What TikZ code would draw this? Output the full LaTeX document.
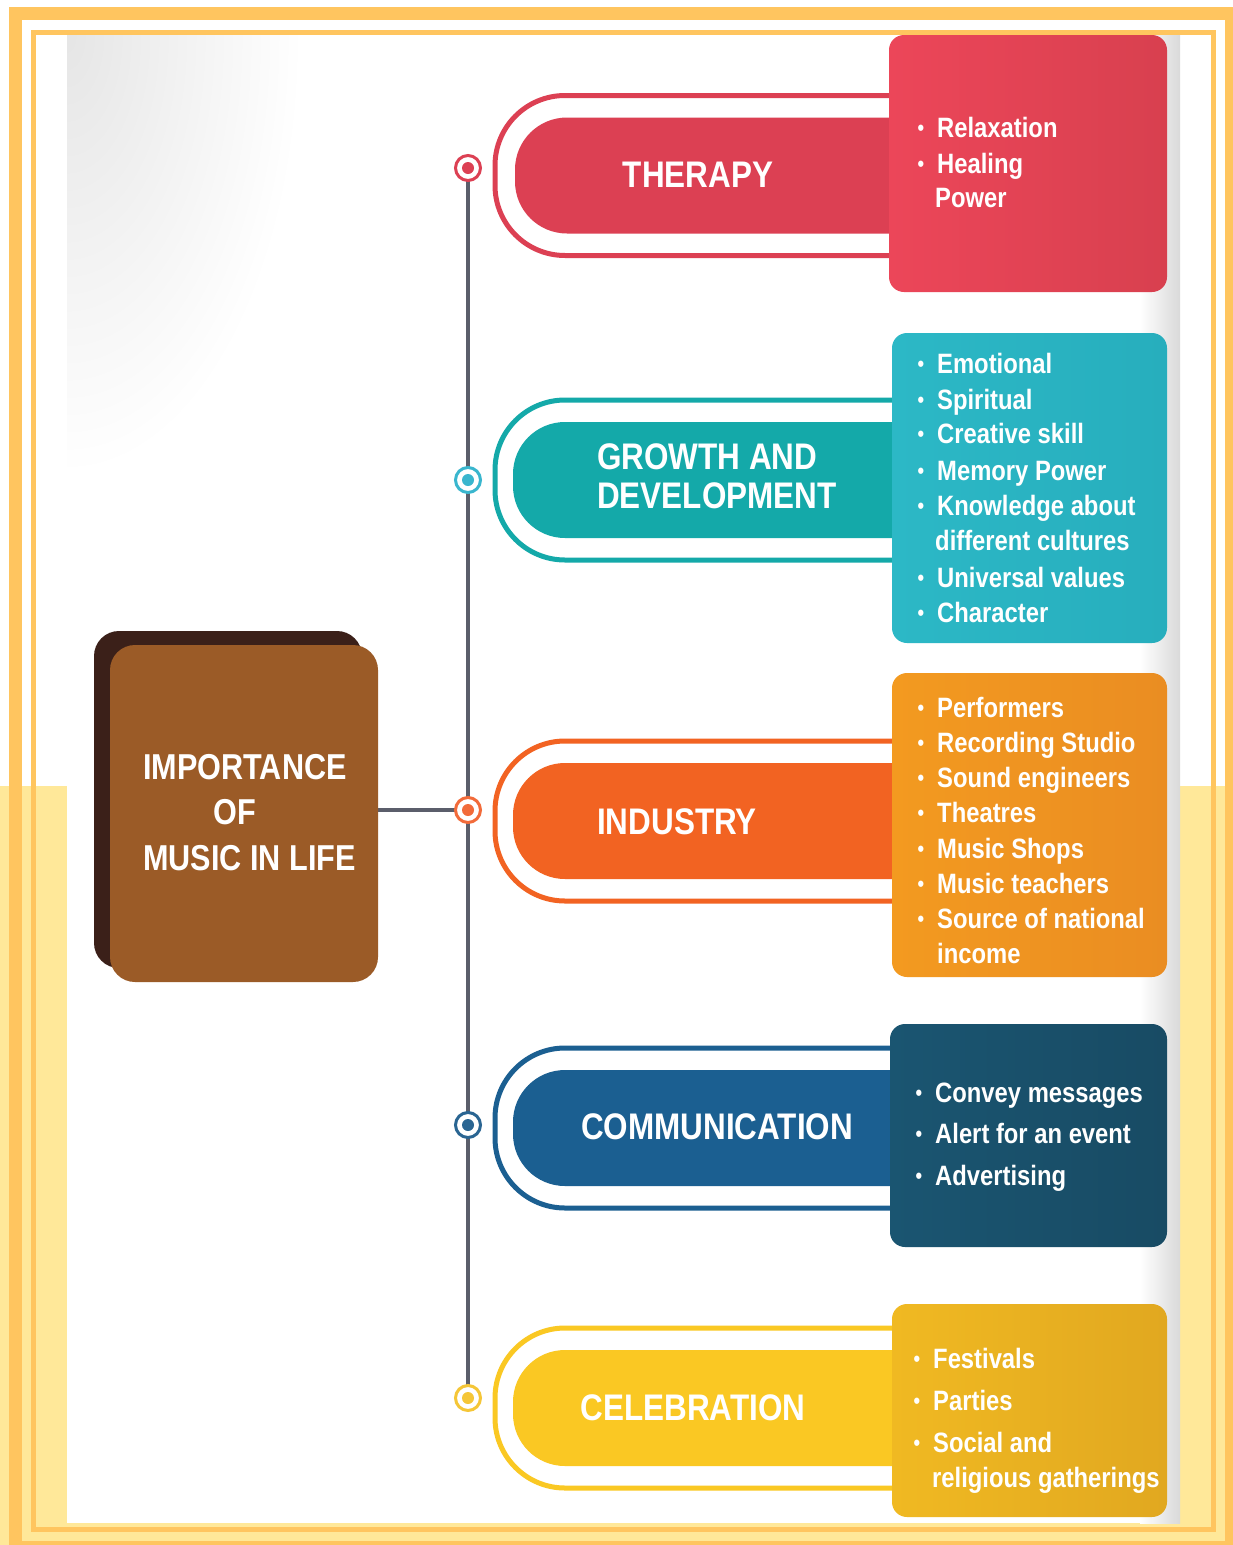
\documentclass[tikz,border=0pt]{standalone}
\usepackage{fontspec}
\newfontfamily\nb[FakeStretch=0.85]{Liberation Sans}
\pgfdeclarelayer{back}
\pgfdeclarelayer{mid}
\pgfdeclarelayer{front}
\pgfsetlayers{back,mid,main,front}
\definecolor{frameor}{HTML}{FFC55F}
\definecolor{paleyel}{HTML}{FFE899}
\definecolor{linegray}{HTML}{5B5E6B}
\definecolor{corebrown}{HTML}{9B5B27}
\definecolor{coreshadow}{HTML}{3B2019}
\definecolor{thA}{HTML}{DC4053}
\definecolor{thL}{HTML}{EC4659}
\definecolor{thR}{HTML}{D8404F}
\definecolor{grA}{HTML}{14A9A9}
\definecolor{grC}{HTML}{39B6CE}
\definecolor{grL}{HTML}{2CB8C6}
\definecolor{grR}{HTML}{27AEBD}
\definecolor{inA}{HTML}{F26322}
\definecolor{inC}{HTML}{F26B3A}
\definecolor{inL}{HTML}{F39A20}
\definecolor{inR}{HTML}{EA8D22}
\definecolor{coA}{HTML}{1B5F91}
\definecolor{coC}{HTML}{2A6592}
\definecolor{coL}{HTML}{1A5571}
\definecolor{coR}{HTML}{184B64}
\definecolor{ceA}{HTML}{FAC823}
\definecolor{ceC}{HTML}{F5C637}
\definecolor{ceL}{HTML}{F0B922}
\definecolor{ceR}{HTML}{E1A820}
\newcommand\lbul{\llap{\raisebox{2pt}{\fontsize{22}{22}\selectfont\textbullet}\hspace{13pt}}}
\tikzset{
  ttl/.style={text=white, font=\nb\bfseries\fontsize{37}{40}\selectfont, inner sep=0},
  coretxt/.style={text=white, font=\nb\bfseries\fontsize{36}{40}\selectfont, inner sep=0, anchor=west},
  li/.style={text=white, font=\nb\bfseries\fontsize{28}{34}\selectfont, inner sep=0, anchor=base west},
  ring/.style={circle, draw=#1, line width=3, fill=white, minimum size=25, inner sep=0,
    path picture={\fill[#1] (path picture bounding box.center) circle (6);}},
  conn/.style={draw=linegray, line width=4.5},
  outl/.style={draw=#1, line width=5, rounded corners=70},
  infobox/.style={rounded corners=15, inner sep=0},
}
\begin{document}
\begin{tikzpicture}[x=1pt,y=-1pt]
\useasboundingbox (0,0) rectangle (1233,1545);
\begin{pgfonlayer}{back}
  \fill[paleyel] (0,786) rectangle (1233,1545);
  \fill[white] (67,35) rectangle (1180,1523);
  \begin{scope}
    \clip (67,35) rectangle (1180,1523);
    \shade[inner color=black!10, outer color=white] (67,35) ellipse (235 and 440);
    \shade[left color=white, right color=black!15] (1140,35) rectangle (1180,1523);
  \end{scope}
\end{pgfonlayer}

% central box
\fill[coreshadow, rounded corners=25] (94,631) rectangle (362,968);
\node[fill=corebrown, rounded corners=25, minimum width=268, minimum height=337, inner sep=0] (core) at (244,813.5) {};
\node[coretxt] (m1) at (143,767) {IMPORTANCE};
\node[coretxt] (m2) at (213,812) {OF};
\node[coretxt] (m3) at (143,858) {MUSIC IN LIFE};

% circles on the spine
\node[ring=thA] (c1) at (468,168) {};
\node[ring=grC] (c2) at (468,480) {};
\node[ring=inC] (c3) at (468,810) {};
\node[ring=coC] (c4) at (468,1125) {};
\node[ring=ceC] (c5) at (468,1398) {};
\begin{pgfonlayer}{mid}
  \draw[conn] (c1.center) -- (c5.center);
  \draw[conn] (c3.center -| core.east) -- (c3.center);
\end{pgfonlayer}

% THERAPY
\draw[outl=thA] (895,95.5) -- (495,95.5) -- (495,255.5) -- (895,255.5);
\fill[thA] (895,117.5) [rounded corners=52] -- (515,117.5) -- (515,233.5) [sharp corners] -- (895,233.5) -- cycle;
\node[ttl] (t1) at (698,174.5) {THERAPY};
\node[infobox, left color=thL, right color=thR, minimum width=278, minimum height=257] (b1) at (1028,163.5) {};
\node[li] (l1a) at (937,137) {\lbul Relaxation};
\node[li] (l1b) at (937,173) {\lbul Healing};
\node[li] (l1c) at (935,207) {Power};

% GROWTH AND DEVELOPMENT
\draw[outl=grA] (895,400) -- (495,400) -- (495,560) -- (895,560);
\fill[grA] (895,422) [rounded corners=52] -- (513,422) -- (513,538) [sharp corners] -- (895,538) -- cycle;
\node[ttl, anchor=west] (t2a) at (597,457) {GROWTH AND};
\node[ttl, anchor=west] (t2b) at (597,495.5) {DEVELOPMENT};
\node[infobox, left color=grL, right color=grR, minimum width=275, minimum height=310] (b2) at (1029.5,488) {};
\node[li] (l2a) at (937,373) {\lbul Emotional};
\node[li] (l2b) at (937,409) {\lbul Spiritual};
\node[li] (l2c) at (937,443) {\lbul Creative skill};
\node[li] (l2d) at (937,480) {\lbul Memory Power};
\node[li] (l2e) at (937,515) {\lbul Knowledge about};
\node[li] (l2f) at (935,550) {different cultures};
\node[li] (l2g) at (937,587) {\lbul Universal values};
\node[li] (l2h) at (937,622) {\lbul Character};

% INDUSTRY
\draw[outl=inA] (895,741) -- (495,741) -- (495,901) -- (895,901);
\fill[inA] (895,763) [rounded corners=52] -- (513,763) -- (513,879) [sharp corners] -- (895,879) -- cycle;
\node[ttl] (t3) at (677,822) {INDUSTRY};
\node[infobox, left color=inL, right color=inR, minimum width=275, minimum height=304] (b3) at (1029.5,825) {};
\node[li] (l3a) at (937,717) {\lbul Performers};
\node[li] (l3b) at (937,752) {\lbul Recording Studio};
\node[li] (l3c) at (937,787) {\lbul Sound engineers};
\node[li] (l3d) at (937,822) {\lbul Theatres};
\node[li] (l3e) at (937,858) {\lbul Music Shops};
\node[li] (l3f) at (937,893) {\lbul Music teachers};
\node[li] (l3g) at (937,928) {\lbul Source of national};
\node[li] (l3h) at (937,963) {income};

% COMMUNICATION
\draw[outl=coA] (895,1048) -- (495,1048) -- (495,1208) -- (895,1208);
\fill[coA] (895,1070) [rounded corners=52] -- (513,1070) -- (513,1186) [sharp corners] -- (895,1186) -- cycle;
\node[ttl] (t4) at (717,1127) {COMMUNICATION};
\node[infobox, left color=coL, right color=coR, minimum width=277, minimum height=223] (b4) at (1028.5,1135.5) {};
\node[li] (l4a) at (935,1102) {\lbul Convey messages};
\node[li] (l4b) at (935,1143) {\lbul Alert for an event};
\node[li] (l4c) at (935,1185) {\lbul Advertising};

% CELEBRATION
\draw[outl=ceA] (895,1328) -- (495,1328) -- (495,1488) -- (895,1488);
\fill[ceA] (895,1350) [rounded corners=52] -- (513,1350) -- (513,1466) [sharp corners] -- (895,1466) -- cycle;
\node[ttl] (t5) at (693,1408) {CELEBRATION};
\node[infobox, left color=ceL, right color=ceR, minimum width=275, minimum height=213] (b5) at (1029.5,1410.5) {};
\node[li] (l5a) at (933,1368) {\lbul Festivals};
\node[li] (l5b) at (933,1410) {\lbul Parties};
\node[li] (l5c) at (933,1452) {\lbul Social and};
\node[li] (l5d) at (932,1487) {religious gatherings};

\begin{pgfonlayer}{front}
  \draw[frameor, line width=13] (15.5,13.5) rectangle (1231.5,1547.5);
  \draw[frameor, line width=5] (33.5,32.5) rectangle (1213.5,1529.5);
\end{pgfonlayer}
\end{tikzpicture}
\end{document}
